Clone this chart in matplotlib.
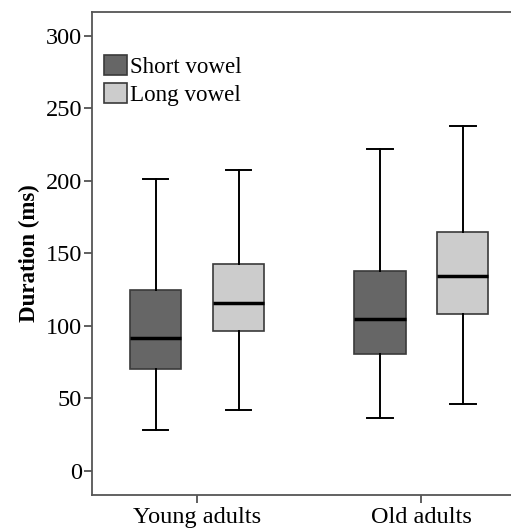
import matplotlib.pyplot as plt
from matplotlib.patches import Patch

# -----------------------------------
# Data (ms)
# -----------------------------------

groups = ["Young adults", "Old adults"]
series = ["Short vowel", "Long vowel"]
colors = ["#666666", "#cccccc"]

whislo = [[28, 36], [42, 46]]
q1 = [[70, 80.5], [96, 108]]
median = [[91.5, 104.5], [115.5, 134]]
q3 = [[124.5, 137.5], [142.5, 164.5]]
whishi = [[201, 222], [207.5, 238]]

plt.rcParams['font.family'] = ['Liberation Serif', 'DejaVu Serif']

fig = plt.figure(figsize=(5.11, 5.31), dpi=100)
ax = fig.add_axes([0.1795, 0.068, 0.83, 0.91])

offsets = [-0.185, 0.185]

for s in range(len(series)):
    stats = []
    for g in range(len(groups)):
        stats.append({
            "whislo": whislo[s][g],
            "q1": q1[s][g],
            "med": median[s][g],
            "q3": q3[s][g],
            "whishi": whishi[s][g],
            "fliers": [],
        })
    ax.bxp(
        stats,
        positions=[g + offsets[s] for g in range(len(groups))],
        widths=0.228,
        capwidths=0.113,
        patch_artist=True,
        showfliers=False,
        boxprops=dict(facecolor=colors[s], edgecolor="#3a3a3a", linewidth=1.2),
        medianprops=dict(color="black", linewidth=2.5),
        whiskerprops=dict(color="black", linewidth=1.4),
        capprops=dict(color="black", linewidth=1.4),
    )

ax.set_xlim(-0.47, 1.421)
ax.set_ylim(-16.8, 316.6)
ax.set_yticks([0, 50, 100, 150, 200, 250, 300])
ax.set_xticks(range(len(groups)))
ax.set_xticklabels(groups)

ax.tick_params(axis="both", labelsize=17.5, color="#444444", length=6, width=1.2)
ax.tick_params(axis="y", pad=1)
ax.tick_params(axis="x", pad=3)
ax.set_ylabel("Duration (ms)", fontsize=16.5, fontweight="bold", labelpad=4)

for side in ["left", "bottom", "top"]:
    ax.spines[side].set_color("#555555")
    ax.spines[side].set_linewidth(1.3)
ax.spines["right"].set_visible(False)

handles = [Patch(facecolor=c, edgecolor="#3a3a3a", linewidth=1.2) for c in colors]
ax.legend(handles, series, loc="upper left", bbox_to_anchor=(0.029, 0.911),
          frameon=False, fontsize=16.6, handlelength=1.0, handleheight=1.0,
          handletextpad=0.13, labelspacing=0.2, borderaxespad=0, borderpad=0)

plt.savefig("out.png", dpi=100)
